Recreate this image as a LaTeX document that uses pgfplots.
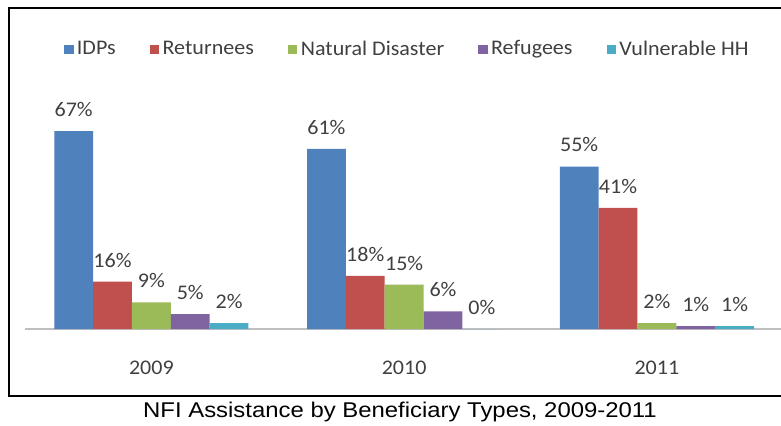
\documentclass[border=0pt]{standalone}
\usepackage{pgfplots}
\usepackage{pgfplotstable}
\pgfplotsset{compat=1.18}
\usepackage{fontspec}
\setmainfont{Carlito}[FakeStretch=1.06]
\newfontfamily\captionfont{Liberation Sans}[FakeStretch=1.12]

\definecolor{cIDP}{HTML}{4F81BD}
\definecolor{cRet}{HTML}{C0504D}
\definecolor{cNat}{HTML}{9BBB59}
\definecolor{cRef}{HTML}{8064A2}
\definecolor{cVul}{HTML}{4BACC6}
\definecolor{txt}{HTML}{404040}
\definecolor{baseline}{HTML}{BFBFBF}

% share of NFI assistance (%) by beneficiary type and year
\pgfplotstableread{
x IDP Ret Nat Ref Vul
0 67  16  9   5   2
1 61  18  15  6   0
2 55  41  2   1   1
}\nfidata

\pgfplotsset{
  sqlegend/.style={legend image code/.code={\fill[##1] (0pt,-3.6pt) rectangle (7.2pt,3.6pt);}},
}

\begin{document}
\fontsize{15.6}{18}\selectfont
\begin{tikzpicture}
\fill[white] (0pt,0pt) rectangle (585.75pt,318.75pt);

\begin{axis}[
  at={(18.75pt,72pt)}, anchor=south west,
  scale only axis, width=568.69pt, height=166.2pt,
  xmin=-0.5, xmax=2.5, ymin=0, ymax=75,
  axis y line=none, axis x line=bottom,
  x axis line style={-, draw=baseline, line width=1.2pt},
  xtick={0,1,2}, xticklabels={2009,2010,2011},
  major tick length=0pt,
  xticklabel style={anchor=base, yshift=-33.75pt, text=txt},
  ybar, bar width=0.1537,
  /pgf/number format/assume math mode=true,
  nodes near coords={\pgfmathprintnumber{\pgfplotspointmeta}\%},
  nodes near coords style={anchor=base, yshift=11pt, text=txt, inner sep=0pt},
  clip=false,
  legend columns=5,
  legend style={at={(0.505,1.262)}, anchor=center, draw=none, fill=none,
    text=txt, nodes={inner sep=2.5pt},
    /tikz/every even column/.append style={column sep=23pt}},
]
\addplot[fill=cIDP, draw=none, bar shift=-0.3074, sqlegend] table[x=x,y=IDP]{\nfidata};
\addlegendentry{IDPs}
\addplot[fill=cRet, draw=none, bar shift=-0.1537, sqlegend] table[x=x,y=Ret]{\nfidata};
\addlegendentry{Returnees}
\addplot[fill=cNat, draw=none, bar shift=0, sqlegend] table[x=x,y=Nat]{\nfidata};
\addlegendentry{Natural Disaster}
\addplot[fill=cRef, draw=none, bar shift=0.1537, sqlegend] table[x=x,y=Ref]{\nfidata};
\addlegendentry{Refugees}
\addplot[fill=cVul, draw=none, bar shift=0.3074, sqlegend] table[x=x,y=Vul]{\nfidata};
\addlegendentry{Vulnerable HH}
\end{axis}

\begin{scope}[x=0.75pt,y=0.75pt]
% frame round the chart area, open at the right
\draw[line width=1.1pt] (781,417) -- (9,417) -- (9,29) -- (781,29);

\node[anchor=base, inner sep=0pt, text=black, font=\captionfont\fontsize{16}{19}\selectfont]
  at (400,8) {NFI Assistance by Beneficiary Types, 2009-2011};

\pgfresetboundingbox
\useasboundingbox (0,0) rectangle (781,425);
\end{scope}
\end{tikzpicture}
\end{document}
